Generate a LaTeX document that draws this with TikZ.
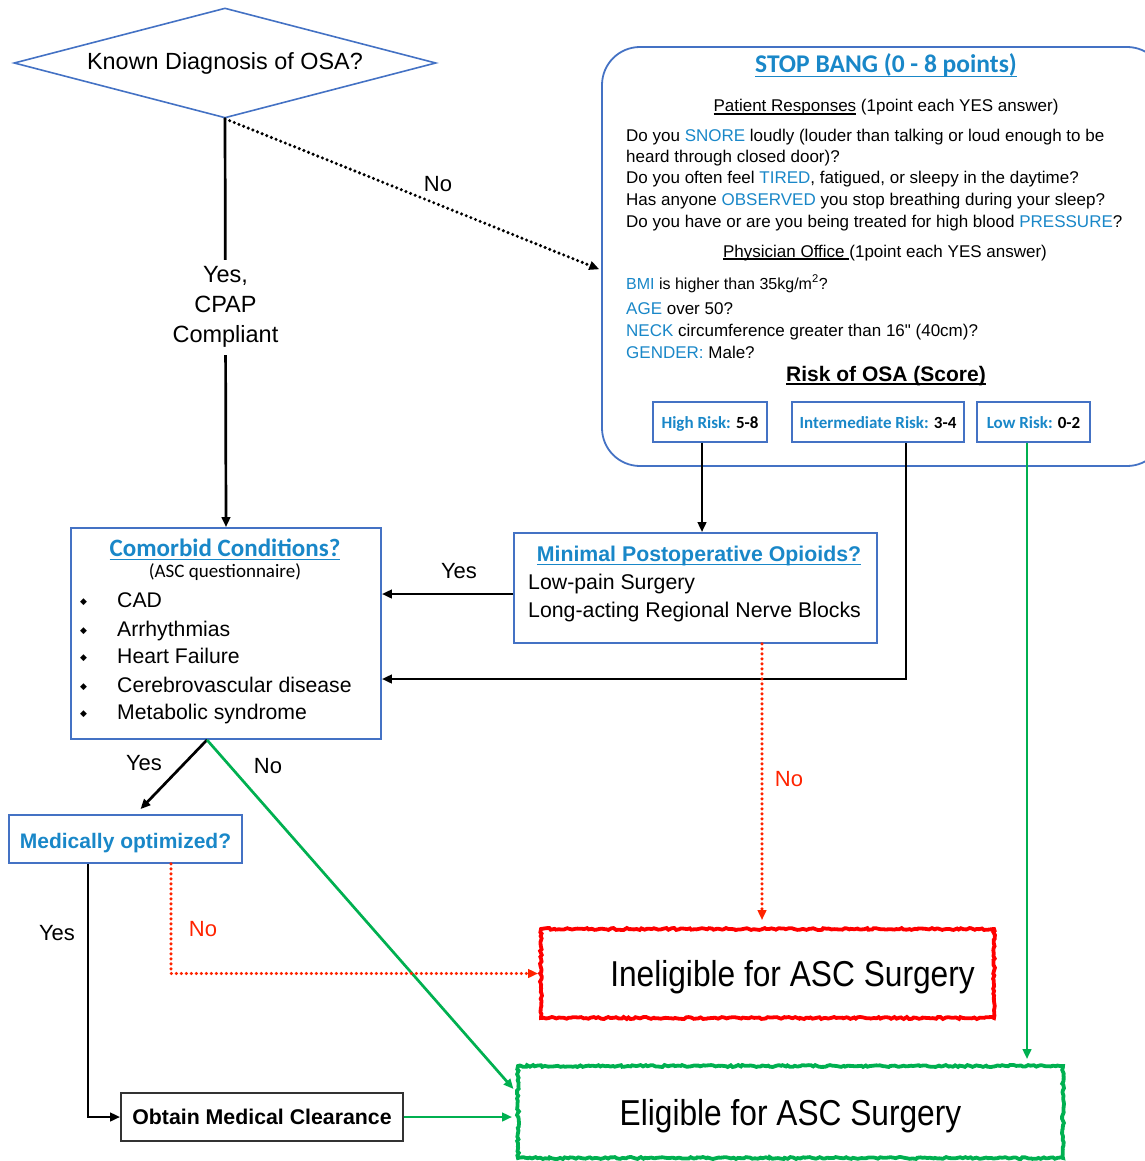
\documentclass[tikz,border=0pt]{standalone}
\usepackage{fontspec}
\setmainfont{Liberation Sans}[Ligatures=TeXOff]
\newfontfamily\carl{Carlito}
\newfontfamily\dejavu{DejaVu Sans}
\newfontfamily\narrowsans[FakeStretch=0.88]{Liberation Sans}
\usetikzlibrary{arrows.meta,shapes.geometric,decorations.pathmorphing,calc}
\definecolor{boxblue}{RGB}{68,114,196}
\definecolor{txtblue}{RGB}{25,135,200}
\definecolor{okgreen}{RGB}{0,176,80}
\definecolor{nored}{RGB}{255,35,0}
\definecolor{boxred}{RGB}{255,0,0}
\newcommand\myfs[2]{\fontsize{#1}{#2}\selectfont}
\newsavebox\myulbox
\newcommand\myul[1]{\sbox\myulbox{#1}\rlap{\rule[-0.16em]{\wd\myulbox}{1.4pt}}\usebox\myulbox}
\newcommand\mybul{\makebox[37pt][l]{\raisebox{0.15em}{\dejavu\myfs{9}{9}◆}}}
\begin{document}
\begin{tikzpicture}[x=1pt,y=-1pt,
  bluebox/.style={draw=boxblue,line width=1.8pt,inner sep=0pt},
  arr/.style={-{Triangle[length=10pt,width=8.5pt]},line width=2.7pt},
  dotarr/.style={arr,line cap=round,dash pattern=on 0pt off 5pt,line width=3.4pt},
  lbl/.style={anchor=base,inner sep=0pt,font=\myfs{22}{26}},
  body/.style={anchor=base west,inner sep=0pt,font=\myfs{17}{21}},
  ctr/.style={anchor=base,inner sep=0pt},
  item/.style={anchor=base west,inner sep=0pt,font=\myfs{21.2}{25}},
  riskbox/.style={bluebox,minimum height=40pt,font=\carl\bfseries\myfs{17}{20},text height=12pt,text depth=0pt},
  rough/.style={line width=3.8pt,decorate,decoration={random steps,segment length=2.5pt,amplitude=1pt}},
]
\pgfmathsetseed{7}
\useasboundingbox (0,0) rectangle (1144,1161);

% ---- decision diamond
\node[diamond,draw=boxblue,line width=1.6pt,minimum width=422pt,minimum height=110pt,aspect=3.8,inner sep=0pt,font=\myfs{23.4}{28}] (diag) at (225,63) {Known Diagnosis of OSA?};

% ---- STOP BANG panel
\node[draw=boxblue,line width=1.8pt,rounded corners=38pt,minimum width=563pt,minimum height=419pt,inner sep=0pt] (stop) at (883.5,256.5) {};
\node[ctr,font=\carl\bfseries\myfs{25.5}{30},text=txtblue] (sbtitle) at (886,73) {\myul{STOP BANG (0 - 8 points)}};
\node[ctr,font=\myfs{17}{21}] (pr) at (886,112) {\myul{Patient Responses} (1point each YES answer)};
\node[body] (q1) at (626,142) {Do you \textcolor{txtblue}{SNORE} loudly (louder than talking or loud enough to be};
\node[body] (q2) at (626,163) {heard through closed door)?};
\node[body] (q3) at (626,184) {Do you often feel \textcolor{txtblue}{TIRED}, fatigued, or sleepy in the daytime?};
\node[body] (q4) at (626,205) {Has anyone \textcolor{txtblue}{OBSERVED} you stop breathing during your sleep?};
\node[body] (q5) at (626,227) {Do you have or are you being treated for high blood \textcolor{txtblue}{PRESSURE}?};
\node[ctr,font=\myfs{17}{21}] (po) at (885,257) {\myul{Physician Office\ }(1point each YES answer)};
\node[body,font=\myfs{16}{20}] (b1) at (626,289) {\textcolor{txtblue}{BMI} is higher than 35kg/m\textsuperscript{2}?};
\node[body] (b2) at (626,314) {\textcolor{txtblue}{AGE} over 50?};
\node[body] (b3) at (626,336) {\textcolor{txtblue}{NECK} circumference greater than 16" (40cm)?};
\node[body] (b4) at (626,358) {\textcolor{txtblue}{GENDER:} Male?};
\node[ctr,font=\bfseries\myfs{21}{25}] (risk) at (886,381.5) {\myul{Risk of OSA (Score)}};

\node[riskbox,minimum width=114pt] (high) at (710,422) {\textcolor{txtblue}{High Risk:} 5-8};
\node[riskbox,minimum width=172pt] (inter) at (878,422) {\textcolor{txtblue}{Intermediate Risk:} 3-4};
\node[riskbox,minimum width=113pt] (low) at (1033.5,422) {\textcolor{txtblue}{Low Risk:} 0-2};

% ---- Comorbid conditions
\node[bluebox,minimum width=310pt,minimum height=211pt] (comorb) at (226,633.5) {};
\node[ctr,font=\carl\bfseries\myfs{25}{30},text=txtblue] (ctitle) at (225,556) {\myul{Comorbid Conditions?}};
\node[ctr,font=\carl\myfs{19}{23}] (casc) at (225,577) {(ASC questionnaire)};
\node[item] (c1) at (80,607.5) {\mybul CAD};
\node[item] (c2) at (80,636.5) {\mybul Arrhythmias};
\node[item] (c3) at (80,663.5) {\mybul Heart Failure};
\node[item] (c4) at (80,692.5) {\mybul Cerebrovascular disease};
\node[item] (c5) at (80,719.5) {\mybul Metabolic syndrome};

% ---- Minimal postoperative opioids
\node[bluebox,minimum width=363pt,minimum height=110pt] (minimal) at (695.5,588) {};
\node[ctr,font=\bfseries\myfs{21.3}{25},text=txtblue] (mtitle) at (699,561.5) {\myul{Minimal Postoperative Opioids?}};
\node[anchor=base west,inner sep=0pt,font=\myfs{21.3}{25}] (m1) at (528,589.5) {Low-pain Surgery};
\node[anchor=base west,inner sep=0pt,font=\myfs{21.3}{25}] (m2) at (528,617.5) {Long-acting Regional Nerve Blocks};

% ---- Medically optimized / clearance
\node[bluebox,minimum width=233pt,minimum height=48pt,font=\bfseries\myfs{21}{25},text=txtblue,text height=19pt,text depth=0pt] (med) at (125.5,839) {Medically optimized?};
\node[draw=black!80,line width=1.8pt,minimum width=282pt,minimum height=48pt,inner sep=0pt,font=\bfseries\myfs{21.3}{25},text height=15pt,text depth=0pt] (obtain) at (262,1117) {Obtain Medical Clearance};

% ---- outcomes
\node[draw=boxred,rough,minimum width=453pt,minimum height=89pt,inner sep=0pt,font=\narrowsans\myfs{36}{40},text height=26pt,text depth=0pt] (inel) at (767.5,973.5) {\hspace*{50pt}Ineligible for ASC Surgery};
\node[draw=okgreen,rough,minimum width=545pt,minimum height=92pt,inner sep=0pt,font=\narrowsans\myfs{36}{40},text height=26pt,text depth=0pt] (elig) at (790.5,1112) {Eligible for ASC Surgery};

% ---- connectors
\draw[arr] (diag.south) -- (comorb.north)
  node[pos=0.461,fill=white,align=center,inner sep=7pt,font=\myfs{23.5}{30}] (cpap) {Yes,\\CPAP\\Compliant};
\draw[dotarr,shorten >=2pt] (diag.south) -- ([yshift=-13.5pt]stop.west);
\node[lbl] (lno1) at (438,192) {No};

\draw[arr] ([xshift=-8pt]high.south) -- ([xshift=-8pt]high.south |- minimal.north);
\draw[arr] ([xshift=28pt]inter.south) |- ([yshift=-45.5pt]comorb.east);
\draw[arr,okgreen,shorten >=5pt] ([xshift=-6.5pt]low.south) -- ([xshift=-6.5pt]low.south |- elig.north);

\draw[arr] ([yshift=-6pt]minimal.west) -- ([yshift=-6pt]minimal.west -| comorb.east);
\node[lbl] (lyes1) at (459,578) {Yes};

\draw[dotarr,nored,shorten >=7pt] ([xshift=66.5pt]minimal.south) -- ([xshift=66.5pt]minimal.south |- inel.north);
\node[lbl,text=nored] (lno2) at (789,786) {No};

\draw[arr] ([xshift=-19pt]comorb.south) -- ([xshift=15pt,yshift=5pt]med.north);
\node[lbl] (lyes2) at (144,770) {Yes};
\draw[arr,okgreen,shorten >=4pt] ([xshift=-19pt]comorb.south) -- ([yshift=20pt]elig.west);
\node[lbl] (lno3) at (268,773) {No};

\draw[arr] ([xshift=-37.5pt]med.south) |- (obtain.west);
\node[lbl] (lyes3) at (57,940) {Yes};
\draw[dotarr,nored,shorten >=1pt] ([xshift=45.5pt]med.south) |- (inel.west);
\node[lbl,text=nored] (lno4) at (203,936) {No};

\draw[arr,okgreen,shorten >=4pt] (obtain.east) -- (obtain.east -| elig.west);
\end{tikzpicture}
\end{document}
